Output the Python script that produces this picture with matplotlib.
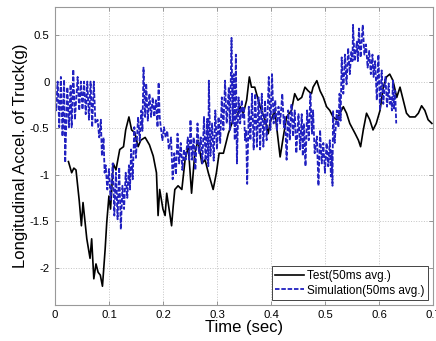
import matplotlib
matplotlib.use("Agg")
import matplotlib.pyplot as plt

plt.rcParams['font.family'] = ['Liberation Sans', 'DejaVu Sans']

# Test (50ms avg.)
test_t = [0.025, 0.031, 0.035, 0.039, 0.045, 0.049, 0.052, 0.059, 0.065, 0.068,
          0.072, 0.076, 0.080, 0.084, 0.088, 0.093, 0.096, 0.100, 0.103, 0.108,
          0.113, 0.120, 0.127, 0.131, 0.137, 0.142, 0.148, 0.154, 0.159, 0.167,
          0.175, 0.182, 0.188, 0.191, 0.194, 0.200, 0.204, 0.207, 0.216, 0.219,
          0.222, 0.228, 0.235, 0.241, 0.247, 0.253, 0.259, 0.265, 0.272, 0.278,
          0.284, 0.293, 0.299, 0.304, 0.312, 0.321, 0.330, 0.336, 0.343, 0.349,
          0.355, 0.360, 0.364, 0.370, 0.380, 0.389, 0.395, 0.398, 0.407, 0.417,
          0.423, 0.429, 0.438, 0.444, 0.450, 0.457, 0.463, 0.469, 0.475, 0.478,
          0.485, 0.491, 0.497, 0.503, 0.509, 0.515, 0.522, 0.528, 0.534, 0.540,
          0.546, 0.556, 0.562, 0.566, 0.571, 0.577, 0.583, 0.589, 0.595, 0.602,
          0.608, 0.614, 0.620, 0.626, 0.633, 0.639, 0.645, 0.651, 0.657, 0.667,
          0.673, 0.679, 0.685, 0.691, 0.698]
test_g = [-0.86, -0.98, -0.93, -0.95, -1.28, -1.55, -1.30, -1.69, -1.90, -1.69,
          -2.12, -1.96, -2.05, -2.08, -2.20, -1.80, -1.51, -1.23, -1.37, -0.88,
          -0.95, -0.73, -0.70, -0.52, -0.38, -0.52, -0.55, -0.70, -0.63, -0.60,
          -0.68, -0.80, -0.98, -1.44, -1.16, -1.37, -1.44, -1.20, -1.55, -1.34,
          -1.16, -1.12, -1.16, -0.84, -0.70, -1.20, -0.77, -0.63, -0.88, -0.84,
          -0.98, -1.16, -0.98, -0.77, -0.77, -0.56, -0.41, -0.38, -0.27, -0.34,
          -0.20, 0.05, -0.06, -0.06, -0.27, -0.41, -0.56, -0.45, -0.31, -0.81,
          -0.59, -0.38, -0.31, -0.13, -0.20, -0.17, -0.06, -0.10, -0.13, -0.06,
          0.01, -0.10, -0.17, -0.27, -0.31, -0.38, -0.41, -0.34, -0.27, -0.34,
          -0.45, -0.56, -0.63, -0.70, -0.52, -0.34, -0.41, -0.52, -0.45, -0.31,
          -0.06, 0.05, 0.08, 0.01, -0.17, -0.06, -0.20, -0.34, -0.38, -0.38,
          -0.34, -0.26, -0.31, -0.41, -0.45]

# Simulation (50ms avg.) -- zigzag vertices
sim_t = [0.000, 0.002, 0.005, 0.008, 0.011, 0.014, 0.017, 0.019, 0.023, 0.026,
         0.029, 0.031, 0.034, 0.037, 0.042, 0.045, 0.048, 0.051, 0.054, 0.057,
         0.060, 0.063, 0.066, 0.069, 0.072, 0.075, 0.079, 0.082, 0.085, 0.087,
         0.090, 0.092, 0.094, 0.097, 0.100, 0.103, 0.107, 0.110, 0.113, 0.116,
         0.119, 0.122, 0.125, 0.128, 0.131, 0.134, 0.137, 0.139, 0.141, 0.144,
         0.147, 0.150, 0.154, 0.157, 0.160, 0.162, 0.164, 0.167, 0.169, 0.172,
         0.175, 0.178, 0.181, 0.184, 0.187, 0.190, 0.192, 0.194, 0.196, 0.199,
         0.202, 0.205, 0.208, 0.211, 0.215, 0.218, 0.221, 0.224, 0.227, 0.230,
         0.233, 0.236, 0.239, 0.242, 0.246, 0.249, 0.251, 0.254, 0.257, 0.260,
         0.264, 0.267, 0.270, 0.273, 0.276, 0.279, 0.282, 0.284, 0.285, 0.288,
         0.291, 0.294, 0.297, 0.300, 0.303, 0.306, 0.309, 0.312, 0.315, 0.318,
         0.322, 0.324, 0.327, 0.329, 0.331, 0.333, 0.335, 0.337, 0.340, 0.343,
         0.346, 0.348, 0.350, 0.352, 0.354, 0.356, 0.359, 0.362, 0.365, 0.368,
         0.371, 0.374, 0.377, 0.380, 0.383, 0.386, 0.389, 0.392, 0.396, 0.399,
         0.402, 0.405, 0.408, 0.411, 0.414, 0.417, 0.421, 0.424, 0.426, 0.429,
         0.432, 0.435, 0.438, 0.441, 0.444, 0.447, 0.451, 0.454, 0.457, 0.459,
         0.461, 0.464, 0.467, 0.470, 0.473, 0.476, 0.478, 0.481, 0.485, 0.488,
         0.491, 0.494, 0.497, 0.500, 0.503, 0.506, 0.509, 0.511, 0.512, 0.514,
         0.515, 0.518, 0.522, 0.525, 0.527, 0.529, 0.531, 0.534, 0.537, 0.540,
         0.543, 0.546, 0.549, 0.551, 0.552, 0.555, 0.559, 0.561, 0.563, 0.566,
         0.570, 0.573, 0.576, 0.579, 0.582, 0.585, 0.588, 0.590, 0.593, 0.596,
         0.599, 0.602, 0.605, 0.608, 0.612, 0.615, 0.618, 0.620, 0.622, 0.624,
         0.626, 0.628, 0.630, 0.632]
sim_g = [-0.20, -0.31, 0.00, -0.49, 0.05, -0.59, 0.02, -0.87, -0.06, -0.49,
         -0.03, -0.49, 0.13, -0.41, 0.05, -0.31, 0.00, -0.30, 0.00, -0.35,
         0.00, -0.41, 0.00, -0.49, 0.00, -0.45, -0.41, -0.60, -0.41, -0.80,
         -0.60, -0.98, -0.90, -1.16, -0.94, -1.27, -0.88, -1.44, -0.98, -1.48,
         -0.92, -1.59, -1.12, -1.37, -0.98, -1.25, -0.90, -1.16, -0.73, -1.05,
         -0.49, -0.82, -0.38, -0.64, -0.31, -0.53, 0.15, -0.38, -0.02, -0.42,
         -0.13, -0.38, -0.17, -0.38, -0.20, -0.49, -0.01, -0.38, -0.49, -0.63,
         -0.49, -0.60, -0.53, -0.73, -0.60, -1.05, -0.77, -1.00, -0.56, -0.88,
         -0.66, -0.95, -0.73, -0.84, -0.60, -0.84, -0.41, -0.84, -0.60, -0.95,
         -0.45, -0.77, -0.60, -0.88, -0.38, -0.85, -0.40, -0.91, 0.01, -0.80,
         -0.45, -0.85, -0.31, -0.73, -0.38, -0.66, -0.17, -0.52, 0.01, -0.45,
         -0.06, -0.52, 0.47, -0.45, 0.08, -0.63, 0.29, -0.88, -0.17, -0.45,
         -0.20, -0.40, -0.27, -0.63, -0.52, -1.10, -0.27, -0.63, -0.13, -0.73,
         -0.13, -0.70, -0.17, -0.73, -0.13, -0.70, -0.20, -0.63, 0.05, -0.52,
         0.08, -0.45, -0.20, -0.52, -0.27, -0.45, -0.13, -0.49, -0.38, -0.84,
         -0.31, -0.63, -0.24, -0.59, -0.31, -0.77, -0.35, -0.73, -0.35, -0.80,
         -0.45, -0.91, -0.31, -0.63, -0.13, -0.56, -0.31, -0.77, -0.59, -1.12,
         -0.52, -0.88, -0.66, -0.98, -0.66, -0.91, -0.63, -1.02, -0.74, -1.12,
         -0.31, -0.66, -0.31, -0.49, -0.13, -0.42, 0.26, -0.13, 0.29, -0.03,
         0.36, 0.08, 0.33, 0.22, 0.61, 0.22, 0.43, 0.22, 0.57, 0.26,
         0.61, 0.29, 0.40, 0.15, 0.33, 0.08, 0.29, 0.05, 0.22, -0.20,
         0.29, -0.31, 0.12, -0.24, 0.05, -0.27, -0.02, -0.24, -0.17, -0.31,
         0.01, -0.29, -0.10, -0.45]

x_ticks = [0, 0.1, 0.2, 0.3, 0.4, 0.5, 0.6, 0.7]
x_labels = ['0', '0.1', '0.2', '0.3', '0.4', '0.5', '0.6', '0.7']
y_ticks = [-2, -1.5, -1, -0.5, 0, 0.5]
y_labels = ['-2', '-1.5', '-1', '-0.5', '0', '0.5']

fig = plt.figure(figsize=(4.36, 3.41), dpi=100)
ax = fig.add_axes([0.126, 0.106, 0.867, 0.873])

ax.plot(test_t, test_g, color='black', lw=1.2, label='Test(50ms avg.)')
ax.plot(sim_t, sim_g, color='#2020c0', lw=1.3, linestyle=(0, (2.5, 1)),
        label='Simulation(50ms avg.)')

ax.set_xlim(0, 0.7)
ax.set_ylim(-2.4, 0.8)
ax.set_xticks(x_ticks)
ax.set_xticklabels(x_labels)
ax.set_yticks(y_ticks)
ax.set_yticklabels(y_labels)
ax.tick_params(direction='in', length=3, width=0.6, color='#888888',
               labelsize=8.2, pad=4, top=True, right=True)
ax.grid(True, linestyle=':', color='#c4c4c4', lw=0.7)
for s in ax.spines.values():
    s.set_color('#999999')
    s.set_linewidth(0.8)

ax.set_xlabel('Time (sec)', fontsize=12, labelpad=0)
ax.set_ylabel('Longitudinal Accel. of Truck(g)', fontsize=12, labelpad=1)

leg = ax.legend(loc='lower right', fontsize=8.5, fancybox=False,
                edgecolor='#444444', framealpha=1, handlelength=2.4,
                handletextpad=0.3, labelspacing=0.25, borderpad=0.3,
                borderaxespad=0.4)
leg.get_frame().set_linewidth(0.7)

fig.savefig('out.png', dpi=100)
